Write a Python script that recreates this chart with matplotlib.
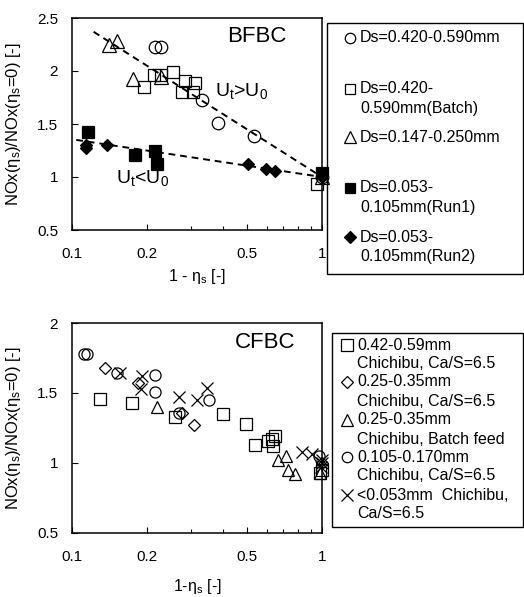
import matplotlib
matplotlib.use("Agg")
import matplotlib.pyplot as plt
from matplotlib.lines import Line2D
from matplotlib.patches import Rectangle

plt.rcParams["font.family"] = ["Liberation Sans", "DejaVu Sans"]
plt.rcParams["mathtext.fontset"] = "custom"
plt.rcParams["mathtext.rm"] = "Liberation Sans"
plt.rcParams["mathtext.it"] = "Liberation Sans:italic"
plt.rcParams["mathtext.default"] = "regular"

# ---- BFBC (top) data ----
bf_circ_x = [0.215, 0.228, 0.330, 0.384, 0.535, 1.0]
bf_circ_y = [2.23, 2.23, 1.73, 1.51, 1.39, 1.0]
bf_sq_x = [0.194, 0.212, 0.228, 0.254, 0.275, 0.283, 0.304, 0.311, 0.952]
bf_sq_y = [1.85, 1.96, 1.96, 1.99, 1.80, 1.91, 1.80, 1.89, 0.93]
bf_tri_x = [0.140, 0.151, 0.176, 0.228, 1.0]
bf_tri_y = [2.25, 2.28, 1.92, 1.94, 1.0]
bf_fsq_x = [0.116, 0.179, 0.215, 0.218, 1.0]
bf_fsq_y = [1.42, 1.21, 1.25, 1.12, 1.04]
bf_dia_x = [0.114, 0.114, 0.138, 0.507, 0.597, 0.649, 1.0]
bf_dia_y = [1.30, 1.27, 1.30, 1.12, 1.08, 1.06, 1.0]
trend_hi_x = [0.122, 1.0]
trend_hi_y = [2.37, 1.0]
trend_lo_x = [0.104, 1.0]
trend_lo_y = [1.35, 1.0]

bf_labels = ["Ds=0.420-0.590mm", "Ds=0.420-\n0.590mm(Batch)", "Ds=0.147-0.250mm",
             "Ds=0.053-\n0.105mm(Run1)", "Ds=0.053-\n0.105mm(Run2)"]

# ---- CFBC (bottom) data ----
cf_sq_x = [0.129, 0.173, 0.258, 0.403, 0.497, 0.54, 0.61, 0.63, 0.65, 0.635, 0.98, 1.0]
cf_sq_y = [1.46, 1.43, 1.33, 1.35, 1.28, 1.13, 1.16, 1.17, 1.19, 1.12, 0.93, 0.95]
cf_dia_x = [0.135, 0.184, 0.275, 0.309, 1.0]
cf_dia_y = [1.68, 1.57, 1.36, 1.27, 1.0]
cf_tri_x = [0.218, 0.669, 0.72, 0.73, 0.78, 0.98]
cf_tri_y = [1.40, 1.02, 1.05, 0.95, 0.92, 0.93]
cf_circ_x = [0.112, 0.115, 0.151, 0.215, 0.214, 0.268, 0.354, 0.97]
cf_circ_y = [1.78, 1.78, 1.645, 1.63, 1.51, 1.36, 1.45, 1.05]
cf_x_x = [0.156, 0.19, 0.188, 0.268, 0.315, 0.346, 0.83, 0.91, 1.0, 1.0, 0.99]
cf_x_y = [1.645, 1.62, 1.53, 1.47, 1.45, 1.535, 1.08, 1.065, 1.02, 1.0, 0.97]

cf_labels = ["0.42-0.59mm\nChichibu, Ca/S=6.5", "0.25-0.35mm\nChichibu, Ca/S=6.5",
             "0.25-0.35mm\nChichibu, Batch feed", "0.105-0.170mm\nChichibu, Ca/S=6.5",
             "<0.053mm  Chichibu,\nCa/S=6.5"]

xticks = [0.1, 0.2, 0.5, 1]
xtick_labels = ["0.1", "0.2", "0.5", "1"]
xminor = [0.3, 0.4, 0.6, 0.7, 0.8, 0.9]

W, H = 524, 597
fig = plt.figure(figsize=(W / 100, H / 100), dpi=100)


def fx(px):
    return px / W


def fy(py):
    return 1 - py / H


def style_axes(ax, ymin, ymax, yt):
    ax.set_xscale("log")
    ax.set_xlim(0.1, 1)
    ax.set_ylim(ymin, ymax)
    ax.set_xticks(xticks)
    ax.set_xticklabels(xtick_labels)
    ax.set_xticks(xminor, minor=True)
    ax.xaxis.set_minor_formatter(plt.NullFormatter())
    ax.set_yticks(yt)
    ax.set_yticklabels([f"{v:g}" for v in yt])
    ax.tick_params(which="both", direction="in", labelsize=11, width=0.8)
    ax.tick_params(axis="x", which="major", length=4, pad=12)
    ax.tick_params(axis="x", which="minor", length=3)
    ax.tick_params(axis="y", length=4, pad=10)
    for s in ax.spines.values():
        s.set_linewidth(1.1)


mk = dict(linestyle="none", color="black", clip_on=False, markeredgewidth=0.9)

# ---- top axes ----
ax1 = fig.add_axes([fx(72), fy(230), fx(322) - fx(72), fy(18) - fy(230)])
style_axes(ax1, 0.5, 2.5, [0.5, 1, 1.5, 2, 2.5])
ax1.plot(trend_hi_x, trend_hi_y, color="black", ls=(0, (3.5, 2.5)), lw=1.4)
ax1.plot(trend_lo_x, trend_lo_y, color="black", ls=(0, (3.5, 2.5)), lw=1.4)
ax1.plot(bf_circ_x, bf_circ_y, marker="o", ms=9, mfc="none", **mk)
ax1.plot(bf_sq_x, bf_sq_y, marker="s", ms=8.5, mfc="none", **mk)
ax1.plot(bf_tri_x, bf_tri_y, marker="^", ms=9.5, mfc="none", **mk)
ax1.plot(bf_fsq_x, bf_fsq_y, marker="s", ms=9, mfc="black", **mk)
ax1.plot(bf_dia_x, bf_dia_y, marker="D", ms=6.5, mfc="black", **mk)
ax1.text(0.74, 0.915, "BFBC", transform=ax1.transAxes, ha="center", va="center", fontsize=16)
ax1.text(0.68, 0.655, "U$_t$>U$_0$", transform=ax1.transAxes, ha="center", va="center", fontsize=14)
ax1.text(0.284, 0.245, "U$_t$<U$_0$", transform=ax1.transAxes, ha="center", va="center", fontsize=14)
ax1.set_xlabel("1 - η$_s$ [-]", fontsize=11.5)
ax1.xaxis.set_label_coords(0.5, -0.175)
ax1.set_ylabel("NOx(η$_s$)/NOx(η$_s$=0) [-]", fontsize=12)
ax1.yaxis.set_label_coords(-0.195, 0.5)

# ---- bottom axes ----
ax2 = fig.add_axes([fx(72), fy(533), fx(322) - fx(72), fy(323) - fy(533)])
style_axes(ax2, 0.5, 2, [0.5, 1, 1.5, 2])
ax2.plot(cf_sq_x, cf_sq_y, marker="s", ms=9, mfc="none", **mk)
ax2.plot(cf_dia_x, cf_dia_y, marker="D", ms=6, mfc="none", **mk)
ax2.plot(cf_tri_x, cf_tri_y, marker="^", ms=9, mfc="none", **mk)
ax2.plot(cf_circ_x, cf_circ_y, marker="o", ms=8, mfc="none", **mk)
ax2.plot(cf_x_x, cf_x_y, marker="x", ms=9, **mk)
ax2.text(0.772, 0.905, "CFBC", transform=ax2.transAxes, ha="center", va="center", fontsize=16)
ax2.set_xlabel("1-η$_s$ [-]", fontsize=11.5)
ax2.xaxis.set_label_coords(0.5, -0.21)
ax2.set_ylabel("NOx(η$_s$)/NOx(η$_s$=0) [-]", fontsize=12)
ax2.yaxis.set_label_coords(-0.195, 0.5)


# ---- hand-made legends (marker aligned with first text line) ----
def legend_box(x0, y0, x1, y1, rows, labels, mx, tx, dy):
    fig.add_artist(Rectangle((fx(x0), fy(y1)), fx(x1) - fx(x0), fy(y0) - fy(y1),
                             transform=fig.transFigure, fill=False, lw=1.0, ec="black"))
    for (m, ms, fc), ry, lab in zip(mx, rows, labels):
        fig.add_artist(Line2D([fx(tx - 10)], [fy(ry)], marker=m, ms=ms, mfc=fc,
                              color="black", mew=0.9, linestyle="none",
                              transform=fig.transFigure))
        for k, line in enumerate(lab.split("\n")):
            fig.text(fx(tx), fy(ry + k * dy), line, fontsize=11.5, ha="left", va="center")


legend_box(327, 23, 523, 274, [38, 89, 137, 188, 237], bf_labels,
           [("o", 7.5, "none"), ("s", 7, "none"), ("^", 8, "none"),
            ("s", 7.5, "black"), ("D", 6, "black")], 360, 19)
legend_box(332, 333, 523, 527, [345, 382, 420, 457, 495], cf_labels,
           [("s", 8, "none"), ("D", 6, "none"), ("^", 8, "none"),
            ("o", 7.5, "none"), ("x", 8, "none")], 357, 19)

fig.savefig("out.png", dpi=100)
